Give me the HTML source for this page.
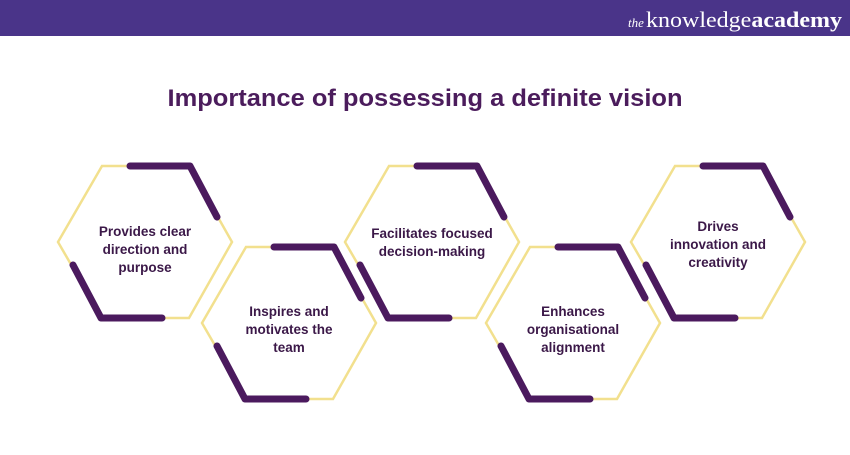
<!DOCTYPE html>
<html><head><meta charset="utf-8"><style>
body{margin:0;width:850px;height:450px;overflow:hidden;background:#fff;font-family:"Liberation Sans",sans-serif}
</style></head><body>
<svg width="850" height="450" xmlns="http://www.w3.org/2000/svg">
<rect x="0" y="0" width="850" height="36" fill="#4a3489"/>
<text x="628" y="27" font-family="Liberation Serif,serif" font-size="13" font-style="italic" fill="#fff">the</text>
<text x="646" y="27" font-family="Liberation Serif,serif" font-size="22" fill="#fff" textLength="196" lengthAdjust="spacingAndGlyphs">knowledge<tspan font-weight="bold">academy</tspan></text>
<text x="425" y="106" text-anchor="middle" font-size="24" font-weight="bold" fill="#4b1c5c" textLength="515" lengthAdjust="spacingAndGlyphs">Importance of possessing a definite vision</text>
<defs>
<g id="hx">
<polygon points="-43,-76 44,-76 87,0 44,76 -43,76 -87,0" fill="none" stroke="#f2e08e" stroke-width="2.5"/>
<polyline points="-15,-76 45,-76 72,-25" fill="none" stroke="#4b1a5e" stroke-width="7" stroke-linecap="round" stroke-linejoin="round"/>
<polyline points="-72,23 -44,76 17,76" fill="none" stroke="#4b1a5e" stroke-width="7" stroke-linecap="round" stroke-linejoin="round"/>
</g>
</defs>
<use href="#hx" x="145" y="242"/>
<use href="#hx" x="289" y="323"/>
<use href="#hx" x="432" y="242"/>
<use href="#hx" x="573" y="323"/>
<use href="#hx" x="718" y="242"/>
<g font-size="13.5" font-weight="bold" fill="#3b1848" text-anchor="middle">
<text x="145" y="236">Provides clear</text><text x="145" y="254">direction and</text><text x="145" y="272">purpose</text>
<text x="289" y="316">Inspires and</text><text x="289" y="334">motivates the</text><text x="289" y="352">team</text>
<text x="432" y="238">Facilitates focused</text><text x="432" y="256">decision-making</text>
<text x="573" y="316">Enhances</text><text x="573" y="334">organisational</text><text x="573" y="352">alignment</text>
<text x="718" y="231">Drives</text><text x="718" y="249">innovation and</text><text x="718" y="267">creativity</text>
</g>
</svg>
</body></html>
